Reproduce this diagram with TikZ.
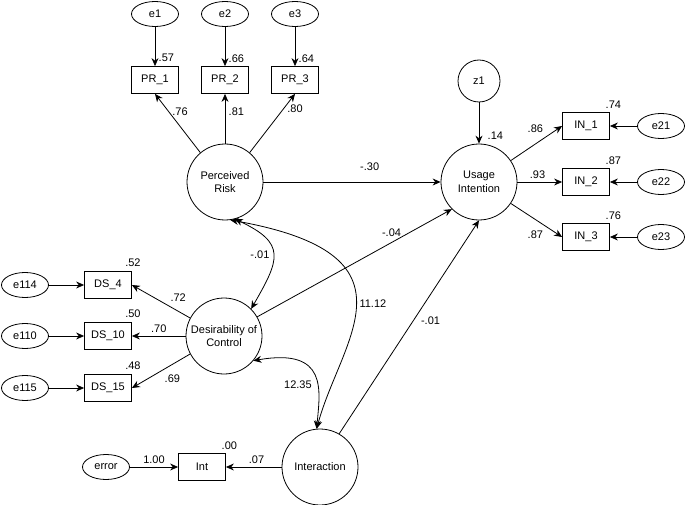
\documentclass[tikz,border=0pt]{standalone}
\usepackage{fontspec}
\setmainfont{Liberation Sans}
\usetikzlibrary{arrows.meta, positioning, shapes.geometric}
\tikzset{
  lat/.style={circle, draw, minimum size=76pt, inner sep=0pt, align=center},
  res/.style={circle, draw, minimum size=42pt, inner sep=0pt},
  obs/.style={rectangle, draw, minimum width=47pt, minimum height=27pt, inner sep=1pt},
  err/.style={ellipse, draw, minimum width=47pt, minimum height=25pt, inner sep=0pt},
  r2/.style={label={[anchor=south, inner sep=1pt, label distance=4pt]north east:#1}},
  r2ds/.style={label={[anchor=south, inner sep=1pt, label distance=7pt, xshift=-5pt]north east:#1}}
}

\begin{document}
\begin{tikzpicture}[x=1pt, y=1pt, >={Stealth[length=8pt, width=7pt]}, line width=0.8pt, on grid, every node/.style={font=\fontsize{11}{13.5}\selectfont}]
\useasboundingbox (0,0) rectangle (685,-505);
% perceived risk block
\node[lat] (PR) at (225,-182) {Perceived\\Risk};
\node[obs, above=102pt of PR] (PR2) {PR\_2};
\node[obs, left=70pt of PR2] (PR1) {PR\_1};
\node[obs, right=70pt of PR2] (PR3) {PR\_3};
\node[err, above=66pt of PR1] (e1) {e1};
\node[err, above=66pt of PR2] (e2) {e2};
\node[err, above=66pt of PR3] (e3) {e3};
% usage intention block
\node[lat] (UI) at (479,-182) {Usage\\Intention};
\node[res, above=101pt of UI] (z1) {z1};
\node[obs, r2=.87, right=107pt of UI] (IN2) {IN\_2};
\node[obs, r2=.74, above=56pt of IN2] (IN1) {IN\_1};
\node[obs, r2=.76, below=55pt of IN2] (IN3) {IN\_3};
\node[err, right=75pt of IN1] (e21) {e21};
\node[err, right=75pt of IN2] (e22) {e22};
\node[err, right=75pt of IN3] (e23) {e23};
% desirability of control block
\node[lat] (DC) at (224,-336) {Desirability of\\Control};
\node[obs, r2ds=.50, left=116pt of DC] (DS10) {DS\_10};
\node[obs, r2ds=.52, above=51pt of DS10] (DS4) {DS\_4};
\node[obs, r2ds=.48, below=52pt of DS10] (DS15) {DS\_15};
\node[err, left=83pt of DS4] (e114) {e114};
\node[err, left=83pt of DS10] (e110) {e110};
\node[err, left=83pt of DS15] (e115) {e115};
% interaction block
\node[lat] (IA) at (320,-467) {Interaction};
\node[obs, r2=.00, left=118pt of IA] (Int) {Int};
\node[err, left=96pt of Int] (error) {error};

\draw[->] (e1) -- node[pos=0.8, right]{.57} (PR1);
\draw[->] (e2) -- node[pos=0.8, right]{.66} (PR2);
\draw[->] (e3) -- node[pos=0.8, right]{.64} (PR3);
\draw[->] (PR.130) -- node[pos=0.7, right]{.76} (PR1.south);
\draw[->] (PR) -- node[pos=0.65, right]{.81} (PR2);
\draw[->] (PR.50) -- node[pos=0.75, right]{.80} (PR3.south);
\draw[->] (PR) -- node[pos=0.6, above=8pt]{-.30} (UI);
\draw[->] (DC.30) -- node[pos=0.69, above=2pt]{-.04} (UI.-135);
\draw[->] (IA.60) -- node[pos=0.53, right=4pt]{-.01} (UI.-90);
\draw[->] (z1) -- node[pos=0.8, right=5pt]{.14} (UI);
\draw[->] (UI.34) -- node[pos=0.7, above left]{.86} (IN1.west);
\draw[->] (UI) -- node[pos=0.45, above]{.93} (IN2);
\draw[->] (UI.-34) -- node[pos=0.7, below left]{.87} (IN3.west);
\draw[->] (e21) -- (IN1);
\draw[->] (e22) -- (IN2);
\draw[->] (e23) -- (IN3);
\draw[->] (DC.152) -- node[pos=0.4, above right]{.72} (DS4.east);
\draw[->] (DC) -- node[pos=0.5, above]{.70} (DS10);
\draw[->] (DC.208) -- node[pos=0.5, below right]{.69} (DS15.east);
\draw[->] (e114) -- (DS4);
\draw[->] (e110) -- (DS10);
\draw[->] (e115) -- (DS15);
\draw[->] (error) -- node[pos=0.5, above]{1.00} (Int);
\draw[->] (IA) -- node[pos=0.45, above]{.07} (Int);
% covariances
\draw[<->] (PR.-75) to[out=-25, in=60, looseness=1.6] node[pos=0.5, left]{-.01} (DC.45);
\draw[<->] (PR.-82) to[out=-10, in=75, out looseness=2.25, in looseness=1.05] node[pos=0.5, right]{11.12} (IA.95);
\draw[<->] (DC.-40) to[out=10, in=85, out looseness=2.1, in looseness=1.05] node[pos=0.6, left=2pt]{12.35} (IA.95);
\end{tikzpicture}
\end{document}
